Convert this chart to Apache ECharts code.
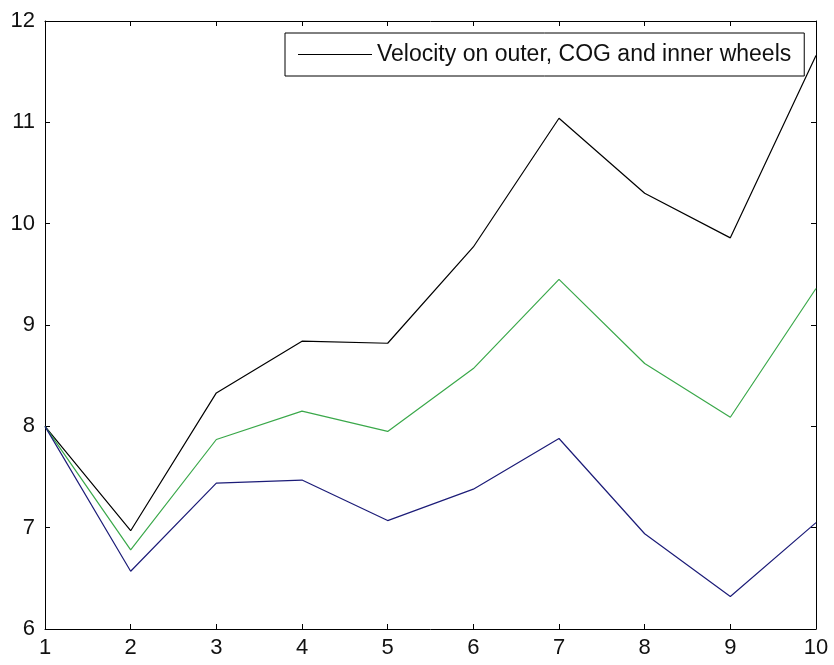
<!DOCTYPE html>
<html>
<head>
<meta charset="utf-8">
<script src="https://cdn.jsdelivr.net/npm/echarts@6/dist/echarts.min.js"></script>
<style>
  html, body { margin: 0; padding: 0; background: #fff; }
  #chart { width: 834px; height: 665px; }
</style>
</head>
<body>
<div id="chart"></div>
<script>
// Sample index along the run (x axis)
const samples = [1, 2, 3, 4, 5, 6, 7, 8, 9, 10];
// Velocity on the outer wheels
const outerVelocity = [8.00, 6.97, 8.33, 8.84, 8.82, 9.77, 11.04, 10.30, 9.86, 11.66];
// Velocity at the centre of gravity
const cogVelocity = [8.00, 6.78, 7.87, 8.15, 7.95, 8.57, 9.45, 8.62, 8.09, 9.36];
// Velocity on the inner wheels
const innerVelocity = [8.00, 6.57, 7.44, 7.47, 7.07, 7.38, 7.88, 6.94, 6.32, 7.05];

const legendLabel = 'Velocity on outer, COG and inner wheels';
const fontFamily = '"Liberation Sans", Arial, Helvetica, sans-serif';

const pair = (ys) => samples.map((x, i) => [x, ys[i]]);

const frameAxis = {
  axisLine: { show: true, onZero: false, lineStyle: { color: '#000', width: 1 } },
  axisTick: { show: true, inside: true, length: 5, lineStyle: { color: '#000', width: 1 } },
  splitLine: { show: false }
};

const chart = echarts.init(document.getElementById('chart'), null, { renderer: 'canvas' });

chart.setOption({
  backgroundColor: '#fff',
  animation: false,
  grid: { left: 45, right: 18, top: 21, bottom: 36, containLabel: false },
  legend: {
    data: [legendLabel],
    left: 285,
    top: 33,
    padding: [10, 13, 10, 13],
    borderColor: '#000',
    borderWidth: 1,
    backgroundColor: '#fff',
    icon: 'rect',
    itemWidth: 74,
    itemHeight: 1.2,
    textStyle: { fontFamily: fontFamily, fontSize: 23, color: '#111', lineHeight: 22 }
  },
  xAxis: [
    Object.assign({
      type: 'value', min: 1, max: 10, interval: 1, position: 'bottom',
      axisLabel: { show: true, margin: 8, fontFamily: fontFamily, fontSize: 22, color: '#111' }
    }, frameAxis),
    Object.assign({
      type: 'value', min: 1, max: 10, interval: 1, position: 'top',
      axisLabel: { show: false }
    }, frameAxis)
  ],
  yAxis: [
    Object.assign({
      type: 'value', min: 6, max: 12, interval: 1, position: 'left',
      axisLabel: { show: true, margin: 10, fontFamily: fontFamily, fontSize: 22, color: '#111' }
    }, frameAxis),
    Object.assign({
      type: 'value', min: 6, max: 12, interval: 1, position: 'right',
      axisLabel: { show: false }
    }, frameAxis)
  ],
  series: [
    {
      name: legendLabel, type: 'line', data: pair(outerVelocity),
      symbol: 'none', lineStyle: { color: '#000', width: 1.2 }, itemStyle: { color: '#000' }
    },
    {
      name: 'COG', type: 'line', data: pair(cogVelocity),
      symbol: 'none', lineStyle: { color: '#3aa84a', width: 1.2 }, itemStyle: { color: '#3aa84a' }
    },
    {
      name: 'Inner wheels', type: 'line', data: pair(innerVelocity),
      symbol: 'none', lineStyle: { color: '#1c1c78', width: 1.2 }, itemStyle: { color: '#1c1c78' }
    }
  ]
});
</script>
</body>
</html>
